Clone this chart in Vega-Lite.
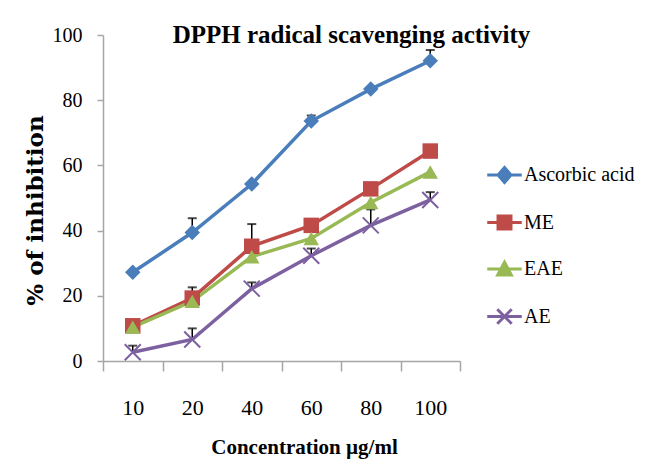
{
  "$schema": "https://vega.github.io/schema/vega-lite/v6.json",
  "width": 357,
  "height": 326,
  "autosize": "none",
  "padding": {"left": 103, "top": 35, "right": 185, "bottom": 111},
  "background": "white",
  "title": {
    "text": "DPPH radical scavenging activity",
    "font": "Liberation Serif",
    "fontSize": 25,
    "fontWeight": "bold",
    "color": "black",
    "anchor": "middle",
    "dx": 70,
    "dy": 27
  },
  "config": {
    "font": "Liberation Serif",
    "view": {"stroke": null},
    "axis": {
      "grid": false,
      "labelFont": "Liberation Serif",
      "titleFont": "Liberation Serif",
      "labelColor": "black",
      "titleColor": "black",
      "tickColor": "#a6a6a6",
      "domainColor": "#a6a6a6",
      "tickWidth": 1.5,
      "domainWidth": 1.5
    },
    "legend": {
      "labelFont": "Liberation Serif",
      "labelFontSize": 20,
      "labelColor": "black"
    }
  },
  "data": {
    "values": [
      {"conc": "10", "series": "Ascorbic acid", "value": 27.2, "hi": null},
      {"conc": "20", "series": "Ascorbic acid", "value": 39.4, "hi": 43.8},
      {"conc": "40", "series": "Ascorbic acid", "value": 54.3, "hi": null},
      {"conc": "60", "series": "Ascorbic acid", "value": 73.6, "hi": 75.3},
      {"conc": "80", "series": "Ascorbic acid", "value": 83.4, "hi": null},
      {"conc": "100", "series": "Ascorbic acid", "value": 92.1, "hi": 95.4},
      {"conc": "10", "series": "ME", "value": 10.8, "hi": null},
      {"conc": "20", "series": "ME", "value": 19.3, "hi": 22.6},
      {"conc": "40", "series": "ME", "value": 35.2, "hi": 42.0},
      {"conc": "60", "series": "ME", "value": 41.6, "hi": null},
      {"conc": "80", "series": "ME", "value": 52.8, "hi": null},
      {"conc": "100", "series": "ME", "value": 64.4, "hi": null},
      {"conc": "10", "series": "EAE", "value": 10.4, "hi": null},
      {"conc": "20", "series": "EAE", "value": 18.3, "hi": null},
      {"conc": "40", "series": "EAE", "value": 32.0, "hi": null},
      {"conc": "60", "series": "EAE", "value": 37.6, "hi": null},
      {"conc": "80", "series": "EAE", "value": 48.6, "hi": null},
      {"conc": "100", "series": "EAE", "value": 58.0, "hi": null},
      {"conc": "10", "series": "AE", "value": 2.7, "hi": 4.7},
      {"conc": "20", "series": "AE", "value": 6.6, "hi": 10.0},
      {"conc": "40", "series": "AE", "value": 22.2, "hi": 24.1},
      {"conc": "60", "series": "AE", "value": 32.3, "hi": 34.5},
      {"conc": "80", "series": "AE", "value": 41.6, "hi": 46.5},
      {"conc": "100", "series": "AE", "value": 49.4, "hi": 51.8}
    ]
  },
  "encoding": {
    "x": {
      "field": "conc",
      "type": "ordinal",
      "sort": ["10", "20", "40", "60", "80", "100"],
      "scale": {"paddingInner": 0, "paddingOuter": 0},
      "axis": {
        "title": "Concentration µg/ml",
        "titleFont": "Liberation Serif",
        "titleFontSize": 21,
        "titleFontWeight": "bold",
        "titleX": 201,
        "titleY": 92,
        "titleBaseline": "alphabetic",
        "labelAngle": 0,
        "labelFont": "Liberation Serif",
        "labelFontSize": 22,
        "labelBaseline": "middle",
        "labelPadding": 36,
        "tickBand": "extent",
        "tickSize": 10
      }
    },
    "y": {
      "field": "value",
      "type": "quantitative",
      "scale": {"domain": [0, 100], "nice": false},
      "axis": {
        "values": [0, 20, 40, 60, 80, 100],
        "title": "% of inhibition",
        "titleFont": "DejaVu Serif",
        "titleFontSize": 23,
        "titleFontWeight": "bold",
        "titleAngle": -90,
        "titleX": -68,
        "titleY": 175,
        "titleAlign": "center",
        "titleBaseline": "middle",
        "labelFont": "Liberation Serif",
        "labelFontSize": 20,
        "labelPadding": 15,
        "tickSize": 6
      }
    }
  },
  "layer": [
    {
      "transform": [{"filter": "datum.hi != null"}],
      "mark": {"type": "rule", "color": "black", "strokeWidth": 1.5},
      "encoding": {"y2": {"field": "hi"}}
    },
    {
      "transform": [{"filter": "datum.hi != null"}],
      "mark": {"type": "tick", "color": "black", "thickness": 2, "size": 9, "orient": "horizontal"},
      "encoding": {"y": {"field": "hi", "type": "quantitative", "title": "% of inhibition"}}
    },
    {
      "mark": {"type": "line", "strokeWidth": 3.5},
      "encoding": {
        "color": {
          "field": "series",
          "type": "nominal",
          "scale": {
            "domain": ["Ascorbic acid", "ME", "EAE", "AE"],
            "range": ["#4a7ebb", "#be4b48", "#98b954", "#7d60a0"]
          },
          "legend": {
            "orient": "none",
            "legendX": 391.5,
            "legendY": 130,
            "title": null,
            "padding": 0,
            "labelFont": "Liberation Serif",
            "labelFontSize": 20,
            "labelColor": "black",
            "labelOffset": 9.5,
            "rowPadding": 20.5,
            "symbolSize": 207,
            "encode": {
              "symbols": {
                "update": {
                  "shape": {"signal": "datum.value === 'Ascorbic acid' ? 'M-2.4,0H2.4M0,-1.05L0.9,0L0,1.05L-0.9,0Z' : datum.value === 'ME' ? 'M-2.4,0H2.4M-0.9,-0.9H0.9V0.9H-0.9Z' : datum.value === 'EAE' ? 'M-2.4,0H2.4M0,-0.95L0.95,0.85H-0.95Z' : 'M-2.4,0H2.4M-1,-1L1,1M-1,1L1,-1'"},
                  "fill": {"signal": "scale('color', datum.value)"},
                  "stroke": {"signal": "scale('color', datum.value)"},
                  "strokeWidth": {"value": 3},
                  "fillOpacity": {"value": 1},
                  "opacity": {"value": 1}
                }
              }
            }
          }
        }
      }
    },
    {
      "transform": [{"filter": "datum.series !== 'AE'"}],
      "mark": {"type": "point", "filled": true, "size": 240, "opacity": 1},
      "encoding": {
        "fill": {
          "field": "series",
          "type": "nominal",
          "scale": {
            "domain": ["Ascorbic acid", "ME", "EAE"],
            "range": ["#4a7ebb", "#be4b48", "#98b954"]
          },
          "legend": null
        },
        "shape": {
          "field": "series",
          "type": "nominal",
          "scale": {
            "domain": ["Ascorbic acid", "ME", "EAE"],
            "range": ["diamond", "square", "triangle-up"]
          },
          "legend": null
        }
      }
    },
    {
      "transform": [{"filter": "datum.series === 'AE'"}],
      "mark": {
        "type": "point",
        "filled": false,
        "size": 256,
        "shape": "M-1,-1L1,1M-1,1L1,-1",
        "color": "#7d60a0",
        "strokeWidth": 2,
        "opacity": 1
      }
    }
  ]
}
